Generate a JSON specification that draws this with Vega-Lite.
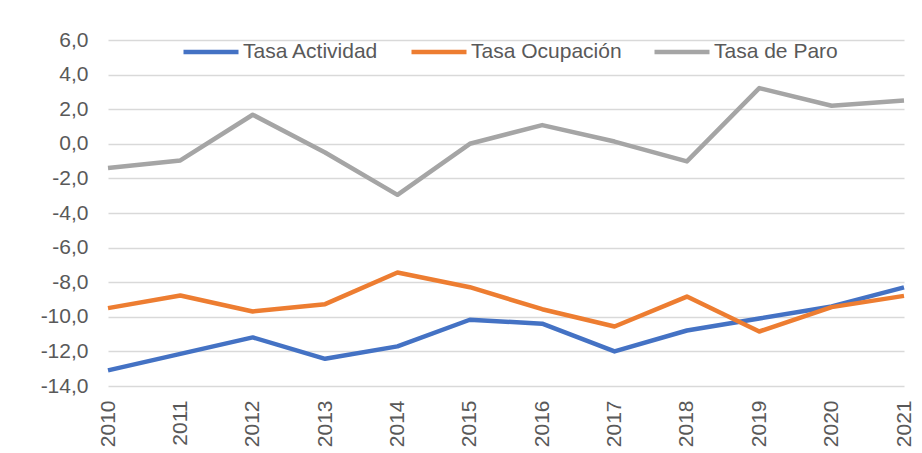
{
  "$schema": "https://vega.github.io/schema/vega-lite/v6.json",
  "width": 796,
  "height": 346,
  "autosize": {"type": "none"},
  "padding": {"left": 108, "top": 40, "right": 18, "bottom": 67},
  "background": "white",
  "config": {
    "locale": {"number": {"decimal": ",", "thousands": ".", "grouping": [3], "currency": ["", " €"], "minus": "-"}},
    "view": {"stroke": null},
    "font": "Liberation Sans",
    "axis": {"labelFont": "Liberation Sans", "labelFontSize": 21, "labelColor": "#595959", "gridColor": "#D9D9D9", "gridWidth": 1.3, "domain": false, "ticks": false, "title": null},
    "legend": {"labelFont": "Liberation Sans", "labelFontSize": 21, "labelColor": "#595959"}
  },
  "data": {
    "values": [
      {"year": "2010", "serie": "Tasa Actividad", "v": -13.1},
      {"year": "2011", "serie": "Tasa Actividad", "v": -12.14},
      {"year": "2012", "serie": "Tasa Actividad", "v": -11.19},
      {"year": "2013", "serie": "Tasa Actividad", "v": -12.43},
      {"year": "2014", "serie": "Tasa Actividad", "v": -11.71},
      {"year": "2015", "serie": "Tasa Actividad", "v": -10.17},
      {"year": "2016", "serie": "Tasa Actividad", "v": -10.4},
      {"year": "2017", "serie": "Tasa Actividad", "v": -12.0},
      {"year": "2018", "serie": "Tasa Actividad", "v": -10.79},
      {"year": "2019", "serie": "Tasa Actividad", "v": -10.1},
      {"year": "2020", "serie": "Tasa Actividad", "v": -9.4},
      {"year": "2021", "serie": "Tasa Actividad", "v": -8.3},
      {"year": "2010", "serie": "Tasa Ocupación", "v": -9.5},
      {"year": "2011", "serie": "Tasa Ocupación", "v": -8.77},
      {"year": "2012", "serie": "Tasa Ocupación", "v": -9.69},
      {"year": "2013", "serie": "Tasa Ocupación", "v": -9.27},
      {"year": "2014", "serie": "Tasa Ocupación", "v": -7.44},
      {"year": "2015", "serie": "Tasa Ocupación", "v": -8.29},
      {"year": "2016", "serie": "Tasa Ocupación", "v": -9.56},
      {"year": "2017", "serie": "Tasa Ocupación", "v": -10.56},
      {"year": "2018", "serie": "Tasa Ocupación", "v": -8.83},
      {"year": "2019", "serie": "Tasa Ocupación", "v": -10.85},
      {"year": "2020", "serie": "Tasa Ocupación", "v": -9.44},
      {"year": "2021", "serie": "Tasa Ocupación", "v": -8.79},
      {"year": "2010", "serie": "Tasa de Paro", "v": -1.4},
      {"year": "2011", "serie": "Tasa de Paro", "v": -0.96},
      {"year": "2012", "serie": "Tasa de Paro", "v": 1.68},
      {"year": "2013", "serie": "Tasa de Paro", "v": -0.5},
      {"year": "2014", "serie": "Tasa de Paro", "v": -2.95},
      {"year": "2015", "serie": "Tasa de Paro", "v": 0.0},
      {"year": "2016", "serie": "Tasa de Paro", "v": 1.08},
      {"year": "2017", "serie": "Tasa de Paro", "v": 0.13},
      {"year": "2018", "serie": "Tasa de Paro", "v": -1.02},
      {"year": "2019", "serie": "Tasa de Paro", "v": 3.22},
      {"year": "2020", "serie": "Tasa de Paro", "v": 2.2},
      {"year": "2021", "serie": "Tasa de Paro", "v": 2.5}
    ]
  },
  "mark": {"type": "line", "strokeWidth": 4.5, "strokeJoin": "round"},
  "encoding": {
    "x": {
      "field": "year", "type": "ordinal",
      "scale": {"type": "point", "padding": 0},
      "axis": {"labelAngle": -90, "labelPadding": 14, "grid": false}
    },
    "y": {
      "field": "v", "type": "quantitative",
      "scale": {"domain": [-14, 6], "nice": false, "zero": false},
      "axis": {"values": [-14, -12, -10, -8, -6, -4, -2, 0, 2, 4, 6], "format": ".1f", "labelPadding": 20, "grid": true}
    },
    "color": {
      "field": "serie", "type": "nominal",
      "scale": {"domain": ["Tasa Actividad", "Tasa Ocupación", "Tasa de Paro"], "range": ["#4472C4", "#ED7D31", "#A5A5A5"]},
      "legend": {
        "title": null, "orient": "none", "direction": "horizontal",
        "legendX": 73, "legendY": -18, "padding": 0,
        "symbolType": "stroke", "symbolSize": 3025, "symbolStrokeWidth": 4.5,
        "labelOffset": 2, "columnPadding": 23
      }
    }
  }
}
